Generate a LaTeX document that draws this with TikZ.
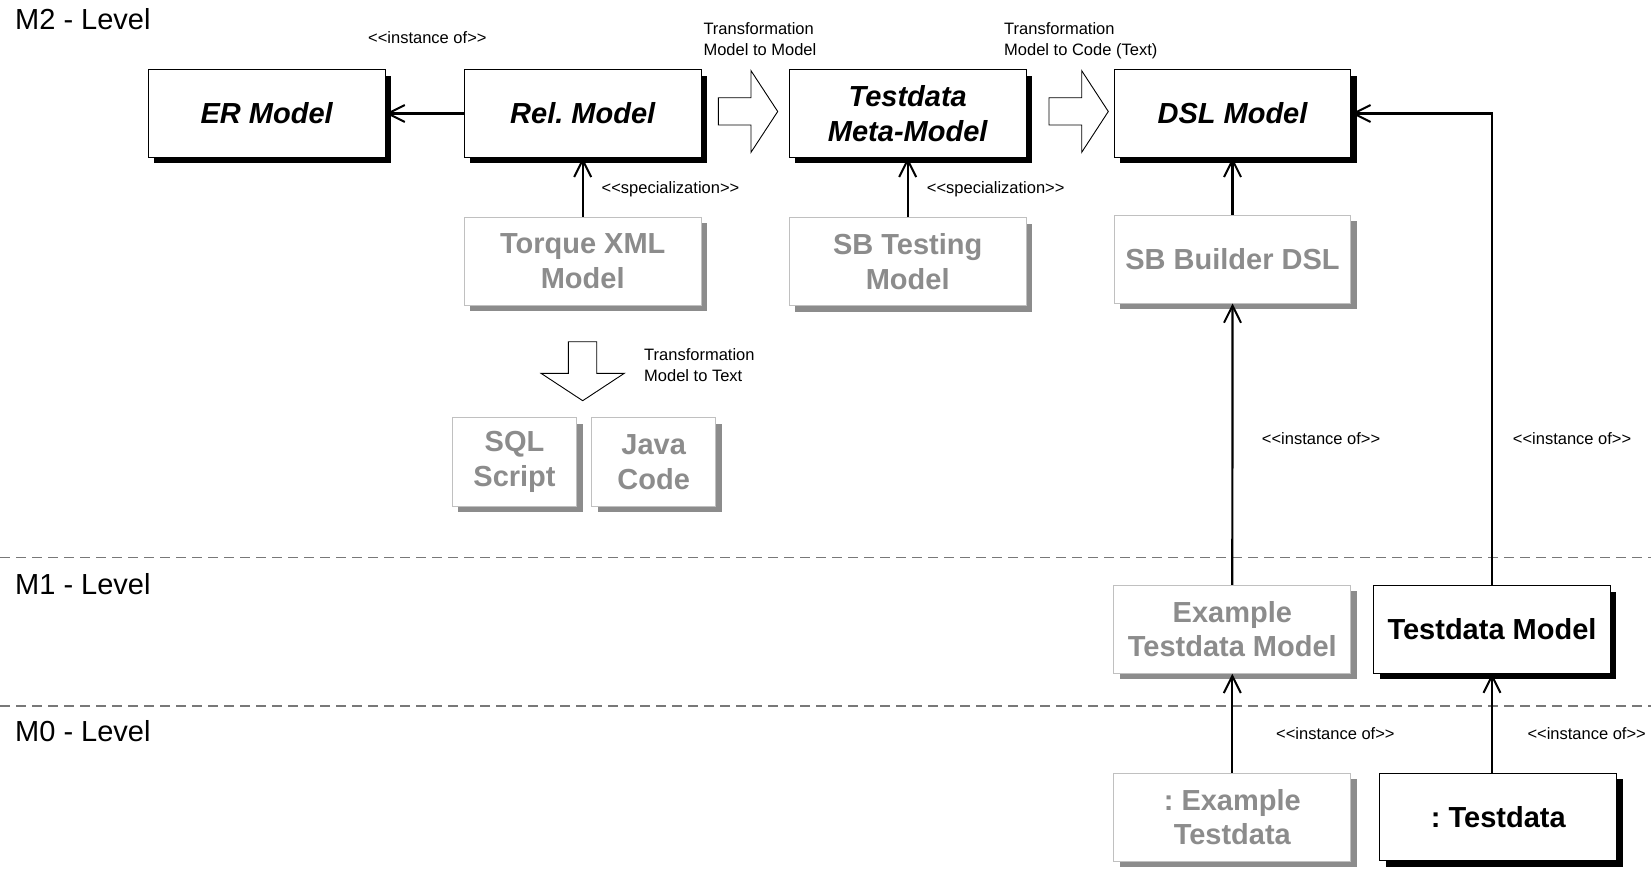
\documentclass[tikz,border=0pt]{standalone}
\usepackage{fontspec}
\setmainfont{Liberation Sans}
\usetikzlibrary{arrows.meta,shadows}
\definecolor{gtext}{RGB}{140,140,140}
\definecolor{gborder}{RGB}{192,192,192}
\definecolor{gshadow}{RGB}{140,140,140}
\definecolor{dashgray}{RGB}{120,120,120}
\frenchspacing
\begin{document}
\begin{tikzpicture}[x=1pt,y=-1pt,
  boxfont/.style={font=\fontsize{29}{34.5}\selectfont\bfseries},
  bbox/.style={draw=black, line width=1pt, fill=white, minimum width=236.7pt, minimum height=87.6pt, inner sep=0pt, align=center, boxfont,
    general shadow={fill=black, shadow xshift=6pt, shadow yshift=-6pt}},
  bboxi/.style={bbox, font=\fontsize{29}{34.5}\selectfont\bfseries\itshape},
  gbox/.style={draw=gborder, line width=1pt, fill=white, text=gtext, minimum width=236.7pt, minimum height=88pt, inner sep=0pt, align=center, boxfont,
    general shadow={fill=gshadow, shadow xshift=6pt, shadow yshift=-6pt}},
  conn/.style={line width=2.2pt, -{Straight Barb[length=17pt,width=17pt,line width=2pt]}},
  lbl/.style={font=\fontsize{16.5}{20.5}\selectfont, inner sep=0pt, align=left, anchor=west},
  lbl2/.style={lbl, anchor=north west},
  lvl/.style={font=\fontsize{29}{35}\selectfont, inner sep=0pt, anchor=base west},
  hollow/.style={draw=black, line width=0.9pt, fill=white, line join=miter},
  sep/.style={draw=dashgray, line width=1.3pt, dash pattern=on 10pt off 6pt}]
\useasboundingbox (0,0) rectangle (1651,868);

% level separators
\draw[sep] (0,557.3) -- (1651,557.3);
\draw[sep] (0,706) -- (1651,706);

% level labels
\node[lvl] (m2) at (15,29.3) {M2 - Level};
\node[lvl] (m1) at (15,594) {M1 - Level};
\node[lvl] (m0) at (15,741) {M0 - Level};

% top row
\node[bboxi] (er)   at (266.7,113.5) {ER Model};
\node[bboxi] (rel)  at (582.7,113.5) {Rel. Model};
\node[bboxi] (meta) at (907.7,113.5) {Testdata\\Meta-Model};
\node[bboxi] (dsl)  at (1232.5,113.5) {DSL Model};

% second row
\node[gbox] (torque) at (582.7,261) {Torque XML\\Model};
\node[gbox] (sbt)    at (907.7,261.5) {SB Testing\\Model};
\node[gbox] (sbb)    at (1232.5,259) {SB Builder DSL};

% generated artefacts
\node[gbox, minimum width=124.4pt, minimum height=88.4pt] (sql)  at (514.5,462) {SQL\\Script};
\node[gbox, minimum width=124.4pt, minimum height=88.4pt] (java) at (653.7,462) {Java\\Code};

% M1
\node[gbox] (exm) at (1232.3,629.3) {Example\\Testdata Model};
\node[bbox] (tm)  at (1492,629.3) {Testdata Model};

% M0
\node[gbox] (ext) at (1232.3,817) {: Example\\Testdata};
\node[bbox] (td)  at (1498.3,817) {: Testdata};

% connectors
\draw[conn] (rel.west) -- (er.east);
\draw[conn] (torque.north) -- (rel.south);
\draw[conn] (sbt.north) -- (meta.south);
\draw[conn] (sbb.north) -- (dsl.south);
\draw[conn] (exm.north) -- (sbb.south);
\draw[conn] (tm.north) |- (dsl.east);
\draw[conn] (ext.north) -- (exm.south);
\draw[conn] (tm.south |- td.north) -- (tm.south);

% transformation arrows (hollow)
\draw[hollow] (718.3,97.7) -- (751,97.7) -- (751,70.7) -- (777.7,111.5) -- (751,152.3) -- (751,125) -- (718.3,125) -- cycle;
\draw[hollow] (1049,97.7) -- (1081.7,97.7) -- (1081.7,70.7) -- (1108.3,111.5) -- (1081.7,152.3) -- (1081.7,125) -- (1049,125) -- cycle;
\draw[hollow] (568.3,341.7) -- (596.7,341.7) -- (596.7,373.3) -- (624.3,373.3) -- (582.7,400.7) -- (541,373.3) -- (568.3,373.3) -- cycle;

% labels
\node[lbl] (l1) at (368,37.3) {<{}<instance of>{}>};
\node[lbl] (l2) at (601.5,189.3) {<{}<specialization>{}>};
\node[lbl] (l3) at (926.7,189.3) {<{}<specialization>{}>};
\node[lbl2] (l4) at (703.3,22.5) {Transformation\\Model to Model};
\node[lbl2] (l5) at (1004,22.5) {Transformation\\Model to Code (Text)};
\node[lbl2] (l6) at (644,348.5) {Transformation\\Model to Text};
\node[lbl] (l7) at (1261.7,438.3) {<{}<instance of>{}>};
\node[lbl] (l8) at (1512.7,438.3) {<{}<instance of>{}>};
\node[lbl] (l9) at (1276,733.3) {<{}<instance of>{}>};
\node[lbl] (l10) at (1527.3,733.3) {<{}<instance of>{}>};
\end{tikzpicture}
\end{document}
